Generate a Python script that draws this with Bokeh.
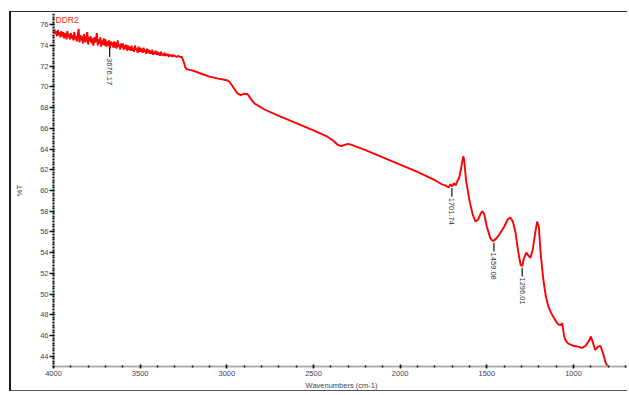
import math
from bokeh.plotting import figure
from bokeh.models import Range1d, Label, FixedTicker
from bokeh.core.properties import value
from bokeh.embed import file_html
from bokeh.resources import INLINE

# ---- data ----
# noisy high-wavenumber part (4000 - 3270 cm-1)
wn_noisy = [
    4000, 3995, 3990, 3985, 3980, 3975, 3970, 3965, 3960, 3955,
    3950, 3945, 3940, 3935, 3930, 3925, 3920, 3915, 3910, 3905,
    3900, 3895, 3890, 3885, 3880, 3875, 3870, 3865, 3860, 3855,
    3850, 3845, 3840, 3835, 3830, 3825, 3820, 3815, 3810, 3805,
    3800, 3795, 3790, 3785, 3780, 3775, 3770, 3765, 3760, 3755,
    3750, 3745, 3740, 3735, 3730, 3725, 3720, 3715, 3710, 3705,
    3700, 3695, 3690, 3685, 3680, 3675, 3670, 3665, 3660, 3655,
    3650, 3645, 3640, 3635, 3630, 3625, 3620, 3615, 3610, 3605,
    3600, 3595, 3590, 3585, 3580, 3575, 3570, 3565, 3560, 3555,
    3550, 3545, 3540, 3535, 3530, 3525, 3520, 3515, 3510, 3505,
    3500, 3495, 3490, 3485, 3480, 3475, 3470, 3465, 3460, 3455,
    3450, 3445, 3440, 3435, 3430, 3425, 3420, 3415, 3410, 3405,
    3400, 3395, 3390, 3385, 3380, 3375, 3370, 3365, 3360, 3355,
    3350, 3345, 3340, 3335, 3330, 3325, 3320, 3315, 3310, 3305,
    3300, 3290, 3280, 3270,
]
t_noisy = [
    75.3, 75.6, 75.1, 75.4, 74.9, 75.5, 75.0, 75.3, 74.8, 75.4,
    74.9, 75.3, 74.7, 75.2, 75.0, 74.6, 75.4, 74.8, 75.1, 74.6,
    75.2, 74.7, 75.0, 74.5, 75.3, 74.6, 74.9, 74.4, 75.0, 75.6,
    74.3, 75.0, 74.5, 74.9, 74.2, 75.1, 74.6, 74.3, 74.9, 75.3,
    74.1, 74.8, 74.4, 74.9, 74.2, 74.7, 74.0, 74.8, 74.3, 74.6,
    75.2, 74.0, 74.6, 74.2, 74.8, 73.9, 74.5, 74.1, 74.7, 74.0,
    74.6, 73.9, 74.4, 74.0, 74.5, 73.7, 74.4, 74.0, 74.3, 73.8,
    74.4, 73.8, 74.3, 73.7, 74.5, 73.9, 74.1, 73.6, 74.2, 73.8,
    74.2, 73.6, 74.0, 73.7, 74.1, 73.5, 74.0, 73.6, 73.9, 73.5,
    74.0, 73.5, 73.8, 73.4, 74.0, 73.6, 73.7, 73.3, 73.9, 73.4,
    73.8, 73.4, 73.7, 73.3, 73.8, 73.4, 73.6, 73.2, 73.7, 73.3,
    73.6, 73.2, 73.5, 73.2, 73.6, 73.1, 73.4, 73.2, 73.5, 73.1,
    73.4, 73.1, 73.3, 73.0, 73.4, 73.1, 73.2, 73.0, 73.3, 73.0,
    73.2, 73.0, 73.2, 72.9, 73.1, 73.0, 73.1, 72.9, 73.1, 73.0,
    73.0, 72.9, 73.0, 72.9,
]
# smoother remainder (3260 - 795 cm-1)
wn_main = [
    3260, 3250, 3240, 3230, 3200, 3150, 3100, 3050, 3000, 2985, 2960, 2940, 2920, 2900,
    2880, 2860, 2840, 2820, 2780, 2700, 2600, 2500, 2420, 2385, 2360, 2340, 2320, 2300,
    2280, 2200, 2100, 2000, 1900, 1800, 1760, 1740, 1720, 1710, 1700, 1690, 1680, 1670,
    1660, 1650, 1640, 1635, 1630, 1620, 1600, 1580, 1565, 1550, 1535, 1525, 1515, 1500,
    1480, 1465, 1450, 1430, 1400, 1380, 1365, 1350, 1335, 1320, 1305, 1296, 1285, 1272,
    1260, 1248, 1235, 1222, 1210, 1200, 1190, 1175, 1160, 1145, 1130, 1110, 1090, 1075,
    1065, 1055, 1045, 1030, 1000, 970, 950, 930, 910, 900, 890, 875, 860, 845, 830, 815,
    804, 795,
]
t_main = [
    72.9, 72.5, 71.9, 71.7, 71.6, 71.3, 71.0, 70.8, 70.65, 70.5, 69.9, 69.4, 69.2, 69.35,
    69.3, 68.8, 68.4, 68.2, 67.8, 67.2, 66.5, 65.8, 65.2, 64.8, 64.4, 64.3, 64.4, 64.5,
    64.4, 63.9, 63.2, 62.5, 61.8, 61.0, 60.6, 60.5, 60.3, 60.6, 60.4, 60.7, 60.5, 60.9,
    61.2, 62.0, 63.0, 63.3, 62.8, 61.0, 59.0, 57.6, 57.0, 57.2, 57.8, 58.0, 57.7, 56.5,
    55.4, 55.1, 55.3, 55.7, 56.5, 57.2, 57.4, 57.0, 56.0, 54.2, 52.8, 52.7, 53.5, 54.0,
    53.7, 53.5, 54.3, 55.8, 57.0, 56.5, 54.0, 51.5, 49.8, 48.8, 48.2, 47.6, 47.1, 47.0,
    47.2, 46.0, 45.5, 45.2, 45.0, 44.9, 44.8, 45.0, 45.5, 45.9, 45.4, 44.6, 44.9, 45.0, 44.3, 43.4,
    43.0, 42.6,
]
wavenumber = wn_noisy + wn_main
transmittance = t_noisy + t_main

peak_wn = [3676.17, 1701.74, 1459.08, 1296.01]
peak_t = [73.9, 60.4, 55.1, 52.7]
peak_labels = ["3676.17", "1701.74", "1459.08", "1296.01"]

x_ticks = [4000, 3500, 3000, 2500, 2000, 1500, 1000]
y_ticks = [44, 46, 48, 50, 52, 54, 56, 58, 60, 62, 64, 66, 68, 70, 72, 74, 76]

series_name = "DDR2"
x_title = "Wavenumbers (cm-1)"
y_title = "%T"

# ---- figure ----
p = figure(
    width=618, height=380,
    x_range=Range1d(4000, 677), y_range=Range1d(43.0, 77.0),
    output_backend="svg", toolbar_location=None,
    min_border_left=42, min_border_right=0, min_border_top=2, min_border_bottom=25,
)
p.styles = {
    "margin-left": "9px", "margin-top": "11px",
    "border-left": "2px solid #1a1a1a", "border-top": "1px solid #333333",
    "border-bottom": "1px solid #555555",
}
p.background_fill_color = "white"
p.border_fill_color = "white"
p.outline_line_color = None
p.xgrid.visible = False
p.ygrid.visible = False

x_minor = [x_ticks[0] - 100 * k for k in range(0, 34)]
y_minor = [43.0 + 0.25 * k for k in range(0, 137)]
p.xaxis.ticker = FixedTicker(ticks=x_ticks, minor_ticks=x_minor)
p.yaxis.ticker = FixedTicker(ticks=y_ticks, minor_ticks=y_minor)

for ax in (p.xaxis, p.yaxis):
    ax.axis_line_color = "#b0b0b0"
    ax.axis_line_width = 2
    ax.major_tick_line_color = "#111111"
    ax.minor_tick_line_color = "#111111"
    ax.major_tick_line_width = 1.5
    ax.minor_tick_line_width = 1.5
    ax.major_label_text_font = "Liberation Sans"
    ax.major_label_text_font_size = "7.5px"
    ax.major_label_text_color = "#444455"
    ax.axis_label_text_font = "Liberation Sans"
    ax.axis_label_text_font_size = "7.5px"
    ax.axis_label_text_font_style = "normal"
    ax.axis_label_text_color = "#444455"

p.xaxis.major_tick_in = 2
p.xaxis.major_tick_out = 2
p.xaxis.minor_tick_in = 1
p.xaxis.minor_tick_out = 1
p.xaxis.major_label_standoff = 2
p.xaxis.axis_label = x_title
p.xaxis.axis_label_standoff = 2

p.yaxis.major_tick_in = 1
p.yaxis.major_tick_out = 4
p.yaxis.minor_tick_in = 1
p.yaxis.minor_tick_out = 1
p.yaxis.major_label_standoff = 1
p.yaxis.axis_label = y_title
p.yaxis.axis_label_standoff = 13

p.line(wavenumber, transmittance, line_color="#ff0000", line_width=1.9)

tick_top = [t - 0.15 for t in peak_t]
tick_bot = [t - 1.0 for t in peak_t]
text_y = [t - 1.1 for t in peak_t]
p.segment(x0=peak_wn, y0=tick_top, x1=peak_wn, y1=tick_bot, line_color="#111111", line_width=1.2)
p.text(x=peak_wn, y=text_y, text=peak_labels, angle=-math.pi / 2,
       text_align="left", text_baseline="middle",
       text_font=value("Liberation Sans"), text_font_size="7.5px", text_color="#333344")

p.add_layout(Label(x=3988, y=76.5, text=series_name, text_color="#ff2020",
                   text_font="Liberation Sans", text_font_size="8.5px",
                   text_baseline="middle"))

open("out.html", "w").write(file_html(p, INLINE))
